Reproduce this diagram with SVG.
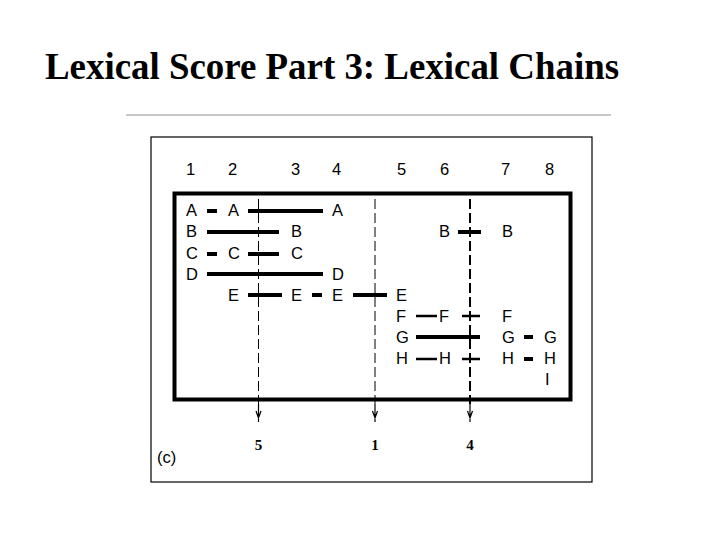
<svg xmlns="http://www.w3.org/2000/svg" width="720" height="540" viewBox="0 0 720 540">
<style>
.t{font-family:"Liberation Serif","Times New Roman",serif;font-weight:bold;font-size:37px;fill:#000}
.n{font-family:"Liberation Sans",Arial,sans-serif;font-size:16.5px;fill:#000}
.b{font-family:"Liberation Serif","Times New Roman",serif;font-weight:bold;font-size:15px;fill:#000;text-anchor:middle}
.k{stroke:#000;stroke-width:4;fill:none}
.m{stroke:#000;stroke-width:2.5;fill:none}
.d{stroke:#000;stroke-width:1;stroke-dasharray:10 4;fill:none}
.d2{stroke:#000;stroke-width:2;stroke-dasharray:10 4;fill:none}
.ar{stroke:#000;stroke-width:1.2;fill:none}
</style>
<rect width="720" height="540" fill="#fff"/>
<text id="title" class="t" x="45" y="79" textLength="574" lengthAdjust="spacingAndGlyphs">Lexical Score Part 3: Lexical Chains</text>
<line x1="126" y1="115" x2="611" y2="115" stroke="#c8c8c8" stroke-width="2"/>
<rect id="frame" x="151" y="137" width="441" height="345" fill="none" stroke="#000" stroke-width="1.2"/>
<rect id="box" x="174.5" y="193.5" width="396" height="206" fill="none" stroke="#000" stroke-width="4"/>
<g id="columns" class="n">
<text x="186" y="175">1</text><text x="228" y="175">2</text><text x="291" y="175">3</text><text x="332" y="175">4</text>
<text x="397" y="175">5</text><text x="440" y="175">6</text><text x="501" y="175">7</text><text x="545" y="175">8</text>
</g>
<g id="words" class="n">
<text x="186" y="216">A</text><text x="228" y="216">A</text><text x="332" y="216">A</text>
<text x="186" y="237">B</text><text x="291" y="237">B</text><text x="439" y="237">B</text><text x="502" y="237">B</text>
<text x="186" y="259">C</text><text x="228" y="259">C</text><text x="291" y="259">C</text>
<text x="186" y="280">D</text><text x="332" y="280">D</text>
<text x="228" y="301">E</text><text x="291" y="301">E</text><text x="332" y="301">E</text><text x="396" y="301">E</text>
<text x="396" y="322">F</text><text x="439" y="322">F</text><text x="502" y="322">F</text>
<text x="396" y="343">G</text><text x="502" y="343">G</text><text x="544" y="343">G</text>
<text x="396" y="364">H</text><text x="439" y="364">H</text><text x="502" y="364">H</text><text x="544" y="364">H</text>
<text x="545" y="385">I</text>
</g>
<g id="connectors">
<path class="k" d="M207 211H217M248 211H323M207 232H279M458 232H481M207 254H217M248 254H279M207 274H323M248 295H282M312 295H322M353 295H387M416 337H480M524 337H533M524 359H533"/>
<path class="m" d="M416 316H437M462 316H480M416 359H437M462 359H480"/>
<path class="d" d="M258.5 199V404M375 199V404"/>
<path class="d2" d="M470 199V404"/>
<path class="ar" d="M258.5 404V422M256 411L258.5 418L261 411M375 404V422M372.5 411L375 418L377.5 411M470 404V422M467.5 411L470 418L472.5 411"/>
</g>
<g id="scores">
<text class="b" x="258.5" y="450">5</text><text class="b" x="375" y="450">1</text><text class="b" x="470" y="450">4</text>
</g>
<text id="label" class="n" x="157" y="463" font-size="19">(c)</text>
</svg>
